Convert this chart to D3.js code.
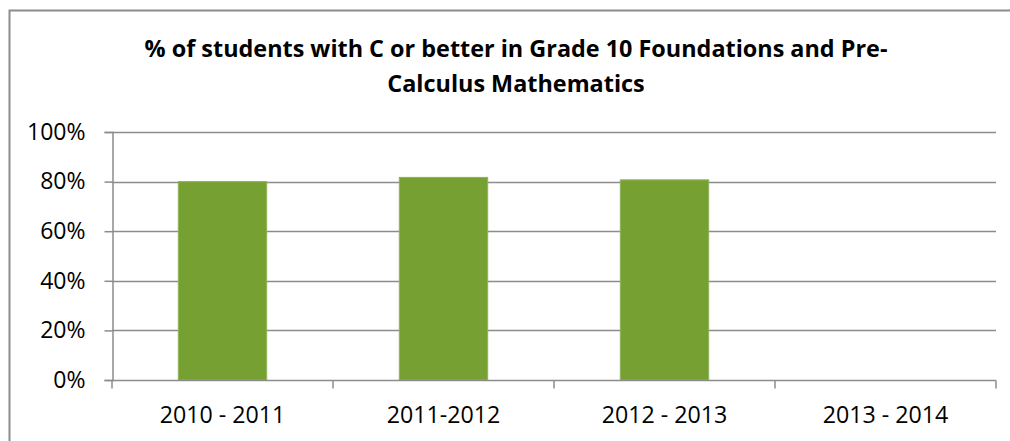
<!DOCTYPE html>
<html>
<head>
<meta charset="utf-8">
<script src="https://cdn.jsdelivr.net/npm/d3@7"></script>
<style>
  html, body { margin: 0; padding: 0; background: #fff; }
  svg { display: block; }
</style>
</head>
<body>
<div id="chart"></div>
<script>
// data
const categories = ['2010 - 2011', '2011-2012', '2012 - 2013', '2013 - 2014'];
const values = [0.80, 0.817, 0.807, null];
const yTicks = [0, 0.2, 0.4, 0.6, 0.8, 1.0];
const titleLines = ['% of students with C or better in Grade 10 Foundations and Pre-', 'Calculus Mathematics'];

const W = 1010, H = 441;
const font = '"Open Sans", "DejaVu Sans", sans-serif';

const svg = d3.select('#chart')
  .append('svg')
  .attr('width', W)
  .attr('height', H);

// chart frame (runs past the right and bottom edge of the crop)
svg.append('rect')
  .attr('x', 9.5)
  .attr('y', 10.5)
  .attr('width', W + 20)
  .attr('height', H + 20)
  .attr('fill', '#fff')
  .attr('stroke', '#8c8c8c')
  .attr('stroke-width', 2);

// plot area
const plot = { left: 112, right: 996, top: 132, bottom: 380 };

const x = d3.scaleBand()
  .domain(categories)
  .range([plot.left, plot.right])
  .paddingInner(0.6)
  .paddingOuter(0.3);

const xOuter = d3.scaleBand()
  .domain(categories)
  .range([plot.left, plot.right]);

const y = d3.scaleLinear()
  .domain([0, 1])
  .range([plot.bottom, plot.top]);

// title
svg.append('g')
  .selectAll('text')
  .data(titleLines)
  .enter().append('text')
  .attr('x', 516)
  .attr('y', function(d, i) { return 57 + i * 35; })
  .attr('text-anchor', 'middle')
  .style('font-family', font)
  .style('font-weight', 'bold')
  .style('font-size', '23.4px')
  .attr('fill', '#000')
  .text(function(d) { return d; });

// gridlines
svg.append('g')
  .selectAll('line')
  .data(yTicks.slice(1))
  .enter().append('line')
  .attr('x1', plot.left)
  .attr('x2', plot.right)
  .attr('y1', function(d) { return Math.round(y(d)) + 0.5; })
  .attr('y2', function(d) { return Math.round(y(d)) + 0.5; })
  .attr('stroke', '#8c8c8c')
  .attr('stroke-width', 1.5);

// bars
svg.append('g')
  .selectAll('rect')
  .data(categories.map(function(c, i) { return { cat: c, v: values[i] }; })
    .filter(function(d) { return d.v != null; }))
  .enter().append('rect')
  .attr('x', function(d) { return x(d.cat); })
  .attr('width', x.bandwidth())
  .attr('y', function(d) { return y(d.v); })
  .attr('height', function(d) { return y(0) - y(d.v); })
  .attr('fill', '#77a033')
  .attr('stroke', '#8fb35a')
  .attr('stroke-width', 1);

// y axis
const yAxis = d3.axisLeft(y)
  .tickValues(yTicks)
  .tickSize(8)
  .tickPadding(19)
  .tickFormat(d3.format('.0%'));

const gy = svg.append('g')
  .attr('transform', 'translate(' + (plot.left + 0.5) + ',0)')
  .call(yAxis);

gy.select('.domain')
  .attr('stroke', '#8c8c8c')
  .attr('stroke-width', 1.5);
gy.selectAll('.tick line')
  .attr('stroke', '#8c8c8c')
  .attr('stroke-width', 1.5);
gy.selectAll('.tick text')
  .style('font-family', font)
  .style('font-size', '23px')
  .attr('fill', '#000');

// x axis: ticks between categories
const gx = svg.append('g')
  .attr('transform', 'translate(0,' + (plot.bottom + 0.5) + ')');

gx.append('line')
  .attr('x1', plot.left)
  .attr('x2', plot.right)
  .attr('stroke', '#8c8c8c')
  .attr('stroke-width', 1.5);

const boundaries = categories.map(function(c) { return xOuter(c); }).concat([plot.right]);
gx.selectAll('.tk')
  .data(boundaries)
  .enter().append('line')
  .attr('class', 'tk')
  .attr('x1', function(d) { return d; })
  .attr('x2', function(d) { return d; })
  .attr('y1', 0)
  .attr('y2', 8)
  .attr('stroke', '#8c8c8c')
  .attr('stroke-width', 1.5);

gx.selectAll('.lbl')
  .data(categories)
  .enter().append('text')
  .attr('class', 'lbl')
  .attr('x', function(d) { return xOuter(d) + xOuter.bandwidth() / 2; })
  .attr('y', 42)
  .attr('text-anchor', 'middle')
  .style('font-family', font)
  .style('font-size', '23.2px')
  .attr('fill', '#000')
  .text(function(d) { return d; });
</script>
</body>
</html>
